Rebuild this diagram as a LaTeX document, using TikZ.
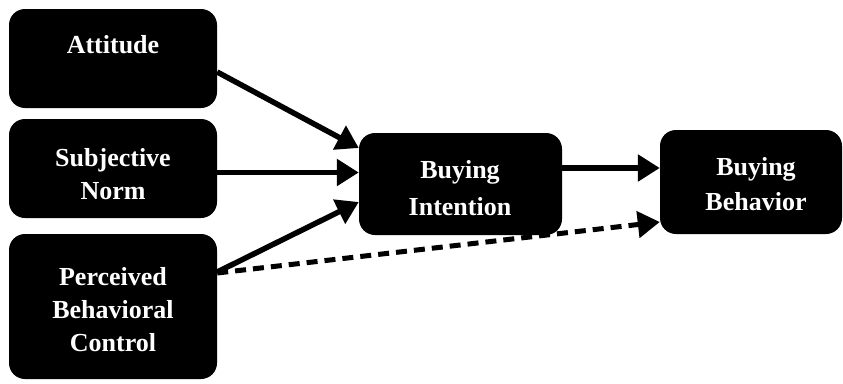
\documentclass[tikz,border=0pt]{standalone}
\usepackage{fontspec}
\setmainfont{Liberation Serif}
\usetikzlibrary{arrows.meta}
\begin{document}
\begin{tikzpicture}[x=1pt,y=-1pt,
  box/.style={rectangle, rounded corners=16pt, fill=black, draw=none, inner sep=0pt},
  label/.style={text=white, align=center, anchor=north, inner sep=0pt,
    font=\fontsize{26}{33}\selectfont\bfseries},
  conn/.style={line width=5.5pt, -{Triangle[length=22pt,width=26pt]}},
  dconn/.style={line width=5pt, -{Triangle[length=22pt,width=26pt]}, dash pattern=on 11pt off 7pt}]
\useasboundingbox (0,0) rectangle (843,383);
% boxes
\node[box, minimum width=208pt, minimum height=99pt] (att) at (113,58.5) {};
\node[box, minimum width=208pt, minimum height=99pt] (sn) at (113,168.5) {};
\node[box, minimum width=208pt, minimum height=145pt] (pbc) at (113,306.5) {};
\node[box, minimum width=203pt, minimum height=102pt] (bi) at (460.5,184) {};
\node[box, minimum width=182pt, minimum height=104pt] (bb) at (751,182) {};
% texts
\node[label] (atttext) at (113,35) {Attitude};
\node[label] (sntext) at (113,148) {Subjective\\Norm};
\node[label] (pbctext) at (113,267) {Perceived\\Behavioral\\Control};
\node[label, font=\fontsize{26}{37}\selectfont\bfseries] (bitext) at (460,160) {Buying\\Intention};
\node[label, font=\fontsize{26}{35}\selectfont\bfseries] (bbtext) at (756,157) {Buying\\Behavior};
% connectors
\draw[conn] ([yshift=-13.5pt]att.east) -- ([yshift=36pt]bi.west);
\draw[conn] ([yshift=-4pt]sn.east) -- ([yshift=11.5pt]bi.west);
\draw[conn] ([yshift=34.5pt]pbc.east) -- ([yshift=-18pt]bi.west);
\draw[conn] ([yshift=16pt]bi.east) -- ([yshift=14pt]bb.west);
\draw[dconn] ([yshift=33.5pt]pbc.east) -- ([yshift=-40pt]bb.west);
\end{tikzpicture}
\end{document}
